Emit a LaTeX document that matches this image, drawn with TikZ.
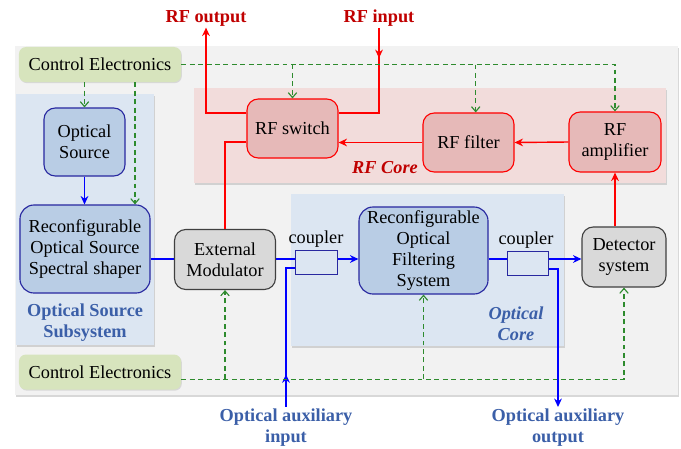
\documentclass[tikz,border=0pt]{standalone}
\usepackage{fontspec}
\setmainfont{Liberation Serif}
\usetikzlibrary{arrows.meta,shadows,decorations.markings}

\definecolor{bggray}{HTML}{F2F2F2}
\definecolor{ctrlgreen}{HTML}{D7E4BD}
\definecolor{panelblue}{HTML}{DCE6F2}
\definecolor{panelpink}{HTML}{F2DCDB}
\definecolor{nodeblue}{HTML}{B9CDE5}
\definecolor{nodeborder}{HTML}{2828A0}
\definecolor{nodered}{HTML}{E6B9B8}
\definecolor{nodegray}{HTML}{D9D9D9}
\definecolor{lblblue}{HTML}{3B5FA8}
\definecolor{lblred}{HTML}{C00000}
\definecolor{ctlgreen}{HTML}{2E8B2E}

\begin{document}
\begin{tikzpicture}[x=0.025cm,y=-0.025cm,
    font=\fontsize{13}{15}\selectfont,
    box/.style={draw,rounded corners=8pt,align=center,inner sep=1pt,line width=0.8pt},
    optbox/.style={box,fill=nodeblue,draw=nodeborder},
    rfbox/.style={box,fill=nodered,draw=red},
    graybox/.style={box,fill=nodegray,draw=black!75},
    ctrlbox/.style={fill=ctrlgreen,rounded corners=5pt,minimum width=4.05cm,minimum height=0.875cm,
        drop shadow={shadow xshift=0.6pt,shadow yshift=-0.8pt,fill=black!25}},
    cplbox/.style={draw=nodeborder,fill=panelblue,line width=0.6pt,minimum width=1.03cm,minimum height=0.6cm,inner sep=0pt},
    panel/.style={drop shadow={shadow xshift=1pt,shadow yshift=-1.2pt,fill=black!30}},
    lbl/.style={font=\fontsize{13}{15}\selectfont\bfseries,align=center,inner sep=1pt},
    opt/.style={blue,line width=1pt},
    rf/.style={red,line width=1pt},
    ctl/.style={ctlgreen,line width=0.8pt,dash pattern=on 3.5pt off 2.5pt},
    tip/.style={-{Stealth[length=6pt,width=5.5pt]}},
    ctltip/.style={-{Straight Barb[length=3.5pt,width=6pt]}},
    midarrow/.style={postaction={decorate},decoration={markings,
        mark=at position #1 with {\arrow{Stealth[length=6pt,width=5.5pt]}}}}
]
\useasboundingbox (0,0) rectangle (681,448);

% Panels
\fill[bggray,panel] (15,46) rectangle (678,395);
\fill[panelblue,panel] (16,94) rectangle (154,345);
\fill[panelpink,panel] (194,88) rectangle (666,183);
\fill[panelblue,panel] (291,194) rectangle (564,346);

% Panel labels
\node[lbl,lblblue] (srcsub) at (85,323) {Optical Source\\Subsystem};
\node[lbl,lblred,font=\fontsize{13}{15}\selectfont\bfseries\itshape] (rfcore) at (385,168) {RF Core};
\node[lbl,lblblue,font=\fontsize{13}{15}\selectfont\bfseries\itshape] (optcore) at (516,323.5) {Optical\\Core};

% Control electronics
\node[ctrlbox] (ctrl1) at (100,64.5) {Control Electronics};
\node[ctrlbox] (ctrl2) at (100,372) {Control Electronics};

% Optical source subsystem
\node[optbox,minimum width=2.025cm,minimum height=1.7cm] (src) at (84.5,142) {Optical\\Source};
\node[optbox,minimum width=3.25cm,minimum height=2.2cm,rounded corners=10pt] (shaper) at (85,249)
    {Reconfigurable\\Optical Source\\Spectral shaper};

% RF core
\node[rfbox,minimum width=2.275cm,minimum height=1.475cm] (sw) at (292.5,128.5) {RF switch};
\node[rfbox,minimum width=2.275cm,minimum height=1.475cm] (rff) at (468.5,142.5) {RF filter};
\node[rfbox,minimum width=2.3cm,minimum height=1.5cm] (amp) at (615,142) {RF\\amplifier};

% Optical core
\node[graybox,minimum width=2.525cm,minimum height=1.5cm] (ext) at (225,259.5) {External\\Modulator};
\node[optbox,minimum width=3.225cm,minimum height=2.175cm,rounded corners=10pt] (filt) at (423.5,250.5)
    {Reconfigurable\\Optical\\Filtering\\System};
\node[cplbox] (c1) at (316.5,262) {};
\node[cplbox] (c2) at (528,263) {};
\node[inner sep=1pt] (cpl1) at (316,239) {coupler};
\node[inner sep=1pt] (cpl2) at (526,240) {coupler};
\node[graybox,minimum width=2.1cm,minimum height=1.5cm] (det) at (624,257) {Detector\\system};

% In/out labels
\node[lbl,lblred] (rfout) at (206,18) {RF output};
\node[lbl,lblred] (rfin) at (379,18) {RF input};
\node[lbl,lblblue] (auxin) at (286,427.5) {Optical auxiliary\\input};
\node[lbl,lblblue] (auxout) at (558,427.5) {Optical auxiliary\\output};

% Optical path
\coordinate (main) at (0,259);
\draw[opt,tip] (src.south) -- (src.south |- shaper.north);
\draw[opt] (shaper.east |- main) -- (ext.west |- main);
\draw[opt] (ext.east |- main) -- (c1.west |- main);
\draw[opt,tip] (c1.east |- main) -- (filt.west |- main);
\draw[opt] (filt.east |- main) -- (c2.west |- main);
\draw[opt,tip] (c2.east |- main) -- (det.west |- main);
\draw[opt,midarrow=0.22] (auxin.north) |- ([yshift=-0.15cm]c1.west);
\draw[opt,tip] ([yshift=-0.15cm]c2.east) -| (auxout.north);

% RF path
\draw[rf,tip] (amp.west) -- (rff.east);
\draw[rf,tip] (rff.west) -- (rff.west -| sw.east);
\draw[rf,tip] (det.north -| amp.south) -- (amp.south);
\draw[rf,tip] ([yshift=0.39cm]sw.west) -| (rfout.south);
\draw[rf,midarrow=0.24] (rfin.south) |- ([yshift=0.39cm]sw.east);
\draw[rf] ([yshift=-0.34cm]sw.west) -| (ext.north);

% Control lines
\coordinate (rffin) at ([xshift=0.18cm]rff.north);
\coordinate (shpin) at ([xshift=1.25cm]shaper.north);
\coordinate (c2line) at ([yshift=-0.18cm]ctrl2.east);
\draw[ctl,ctltip] (ctrl1.east) -| (amp.north);
\draw[ctl,ctltip] (ctrl1.east -| sw.north) -- (sw.north);
\draw[ctl,ctltip] (ctrl1.east -| rffin) -- (rffin);
\draw[ctl,ctltip] (ctrl1.south -| src.north) -- (src.north);
\draw[ctl,ctltip] (ctrl1.south -| shpin) -- (shpin);
\draw[ctl,ctltip] (c2line) -| (det.south);
\foreach \n in {ext,filt} {
    \draw[ctl,ctltip] (c2line -| \n.south) -- (\n.south);
}
\end{tikzpicture}
\end{document}
